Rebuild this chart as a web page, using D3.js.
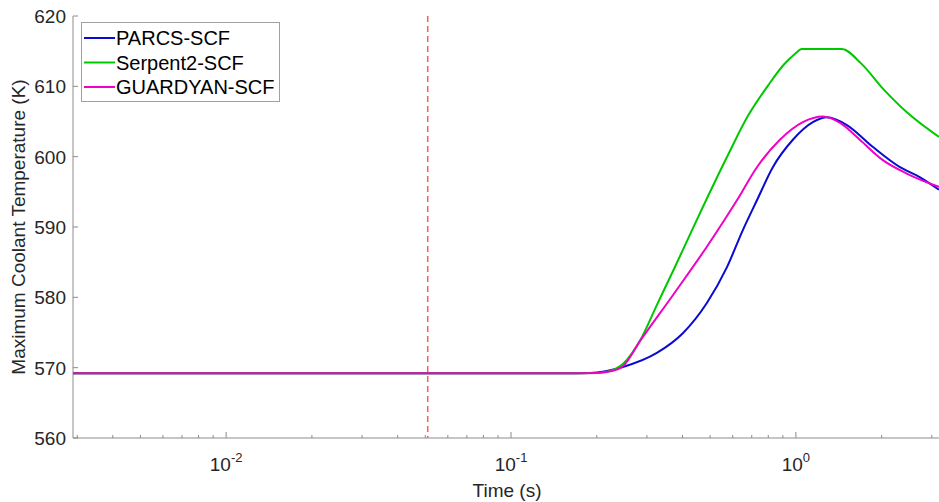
<!DOCTYPE html>
<html>
<head>
<meta charset="utf-8">
<script src="https://cdn.jsdelivr.net/npm/d3@7"></script>
<style>
  body { margin: 0; background: #fff; }
  svg { font-family: "Liberation Sans", Arial, sans-serif; }
  .tick-label { fill: #262626; font-size: 19px; }
  .axis-title { fill: #262626; font-size: 19px; }
  .legend text { fill: #000; font-size: 20px; }
</style>
</head>
<body>
<svg id="chart"></svg>
<script>
const width = 939, height = 502;
const margin = { top: 16, right: 0, bottom: 64, left: 73 };

const xDomain = [0.0029, 3.18];
const yDomain = [560, 620];
const yTicks = [560, 570, 580, 590, 600, 610, 620];
const xMajor = [0.01, 0.1, 1];
const xMajorExp = ['-2', '-1', '0'];
const triggerTime = 0.051;

const seriesNames = ['PARCS-SCF', 'Serpent2-SCF', 'GUARDYAN-SCF'];
const seriesColors = ['#0a0ad2', '#00c800', '#f000c8'];

// time (s) and max coolant temperature (K)
const parcsT = [0.0029, 0.05, 0.15, 0.189, 0.215, 0.247, 0.325, 0.401, 0.487, 0.573, 0.652, 0.730, 0.830, 0.976, 1.147, 1.285, 1.51, 1.86, 2.32, 2.72, 3.18];
const parcsV = [569.2, 569.2, 569.2, 569.25, 569.5, 570.1, 572.1, 574.9, 579.2, 584.3, 589.6, 593.8, 598.5, 602.4, 604.9, 605.6, 604.5, 601.4, 598.5, 597.1, 595.3];

const serpT = [0.0029, 0.05, 0.15, 0.2, 0.216, 0.248, 0.284, 0.325, 0.373, 0.428, 0.476, 0.577, 0.679, 0.798, 0.908, 0.992, 1.05, 1.45, 1.69, 2.04, 2.47, 3.18];
const serpV = [569.2, 569.2, 569.2, 569.25, 569.4, 570.6, 573.9, 578.9, 584.0, 589.2, 593.2, 600.2, 605.8, 610.1, 613.1, 614.6, 615.3, 615.3, 613.3, 609.5, 606.2, 602.8];

const guarT = [0.0029, 0.05, 0.15, 0.2, 0.228, 0.247, 0.284, 0.370, 0.487, 0.621, 0.730, 0.879, 1.058, 1.244, 1.43, 1.677, 2.02, 2.45, 3.18];
const guarV = [569.2, 569.2, 569.2, 569.25, 569.55, 570.2, 573.8, 580.3, 587.2, 593.8, 598.5, 602.4, 604.9, 605.7, 604.8, 602.4, 599.5, 597.6, 595.7];

const seriesT = [parcsT, serpT, guarT];
const seriesV = [parcsV, serpV, guarV];

const svg = d3.select('#chart')
  .attr('width', width)
  .attr('height', height);

const x = d3.scaleLog()
  .domain(xDomain)
  .range([margin.left, width - margin.right]);

const y = d3.scaleLinear()
  .domain(yDomain)
  .range([height - margin.bottom, margin.top]);

svg.append('defs').append('clipPath')
  .attr('id', 'plot-clip')
  .append('rect')
    .attr('x', margin.left)
    .attr('y', margin.top - 2)
    .attr('width', width - margin.left - margin.right)
    .attr('height', height - margin.top - margin.bottom + 4);

// x axis minor ticks
const xMinor = [];
for (let e = -3; e <= 0; e++) {
  for (let k = 2; k <= 9; k++) {
    const v = k * Math.pow(10, e);
    if (v > xDomain[0] && v < xDomain[1]) xMinor.push(v);
  }
}

const axisG = svg.append('g');
const axisColor = '#8c8c8c';

axisG.append('line')
  .attr('x1', margin.left).attr('x2', width)
  .attr('y1', y(yDomain[0])).attr('y2', y(yDomain[0]))
  .attr('stroke', axisColor).attr('stroke-width', 1);

axisG.append('line')
  .attr('x1', margin.left).attr('x2', margin.left)
  .attr('y1', y(yDomain[0])).attr('y2', y(yDomain[1]))
  .attr('stroke', axisColor).attr('stroke-width', 1);

axisG.selectAll('line.minor')
  .data(xMinor)
  .join('line')
    .attr('class', 'minor')
    .attr('x1', d => x(d)).attr('x2', d => x(d))
    .attr('y1', y(yDomain[0])).attr('y2', y(yDomain[0]) - 3)
    .attr('stroke', axisColor);

axisG.selectAll('line.major')
  .data(xMajor)
  .join('line')
    .attr('class', 'major')
    .attr('x1', d => x(d)).attr('x2', d => x(d))
    .attr('y1', y(yDomain[0])).attr('y2', y(yDomain[0]) - 6)
    .attr('stroke', axisColor);

const xLab = axisG.selectAll('text.xlab')
  .data(xMajor)
  .join('text')
    .attr('class', 'tick-label xlab')
    .attr('x', d => x(d))
    .attr('y', y(yDomain[0]) + 33)
    .attr('text-anchor', 'middle');
xLab.append('tspan').text('10');
xLab.append('tspan')
  .attr('dy', -9)
  .style('font-size', '13px')
  .text((d, i) => xMajorExp[i]);

axisG.selectAll('line.ytick')
  .data(yTicks)
  .join('line')
    .attr('class', 'ytick')
    .attr('x1', margin.left).attr('x2', margin.left + 5)
    .attr('y1', d => y(d)).attr('y2', d => y(d))
    .attr('stroke', axisColor);

axisG.selectAll('text.ylab')
  .data(yTicks)
  .join('text')
    .attr('class', 'tick-label ylab')
    .attr('x', margin.left - 7)
    .attr('y', d => y(d))
    .attr('dy', '0.36em')
    .attr('text-anchor', 'end')
    .text(d => d);

svg.append('text')
  .attr('class', 'axis-title')
  .attr('x', 507)
  .attr('y', 497)
  .attr('text-anchor', 'middle')
  .text('Time (s)');

svg.append('text')
  .attr('class', 'axis-title')
  .attr('transform', `translate(25, ${(y(yDomain[0]) + y(yDomain[1])) / 2}) rotate(-90)`)
  .attr('text-anchor', 'middle')
  .text('Maximum Coolant Temperature (K)');

// dashed marker
svg.append('line')
  .attr('x1', x(triggerTime)).attr('x2', x(triggerTime))
  .attr('y1', y(yDomain[1])).attr('y2', y(yDomain[0]))
  .attr('stroke', '#ff5a5a')
  .attr('stroke-width', 1.5)
  .attr('stroke-dasharray', '6,4');

// curves
const line = d3.line()
  .x(d => x(d[0]))
  .y(d => y(d[1]))
  .curve(d3.curveMonotoneX);

const plot = svg.append('g').attr('clip-path', 'url(#plot-clip)');
seriesNames.forEach((name, i) => {
  const pts = seriesT[i].map((t, j) => [t, seriesV[i][j]]);
  plot.append('path')
    .datum(pts)
    .attr('fill', 'none')
    .attr('stroke', seriesColors[i])
    .attr('stroke-width', 2)
    .attr('d', line);
});

// legend
const legend = svg.append('g').attr('class', 'legend');
legend.append('rect')
  .attr('x', 81.5).attr('y', 22.5)
  .attr('width', 198).attr('height', 79)
  .attr('fill', '#fff')
  .attr('stroke', '#a0a0a0');

seriesNames.forEach((name, i) => {
  const ly = 38 + i * 24.5;
  legend.append('line')
    .attr('x1', 84).attr('x2', 115)
    .attr('y1', ly).attr('y2', ly)
    .attr('stroke', seriesColors[i])
    .attr('stroke-width', 2);
  legend.append('text')
    .attr('x', 116)
    .attr('y', ly)
    .attr('dy', '0.36em')
    .text(name);
});
</script>
</body>
</html>
